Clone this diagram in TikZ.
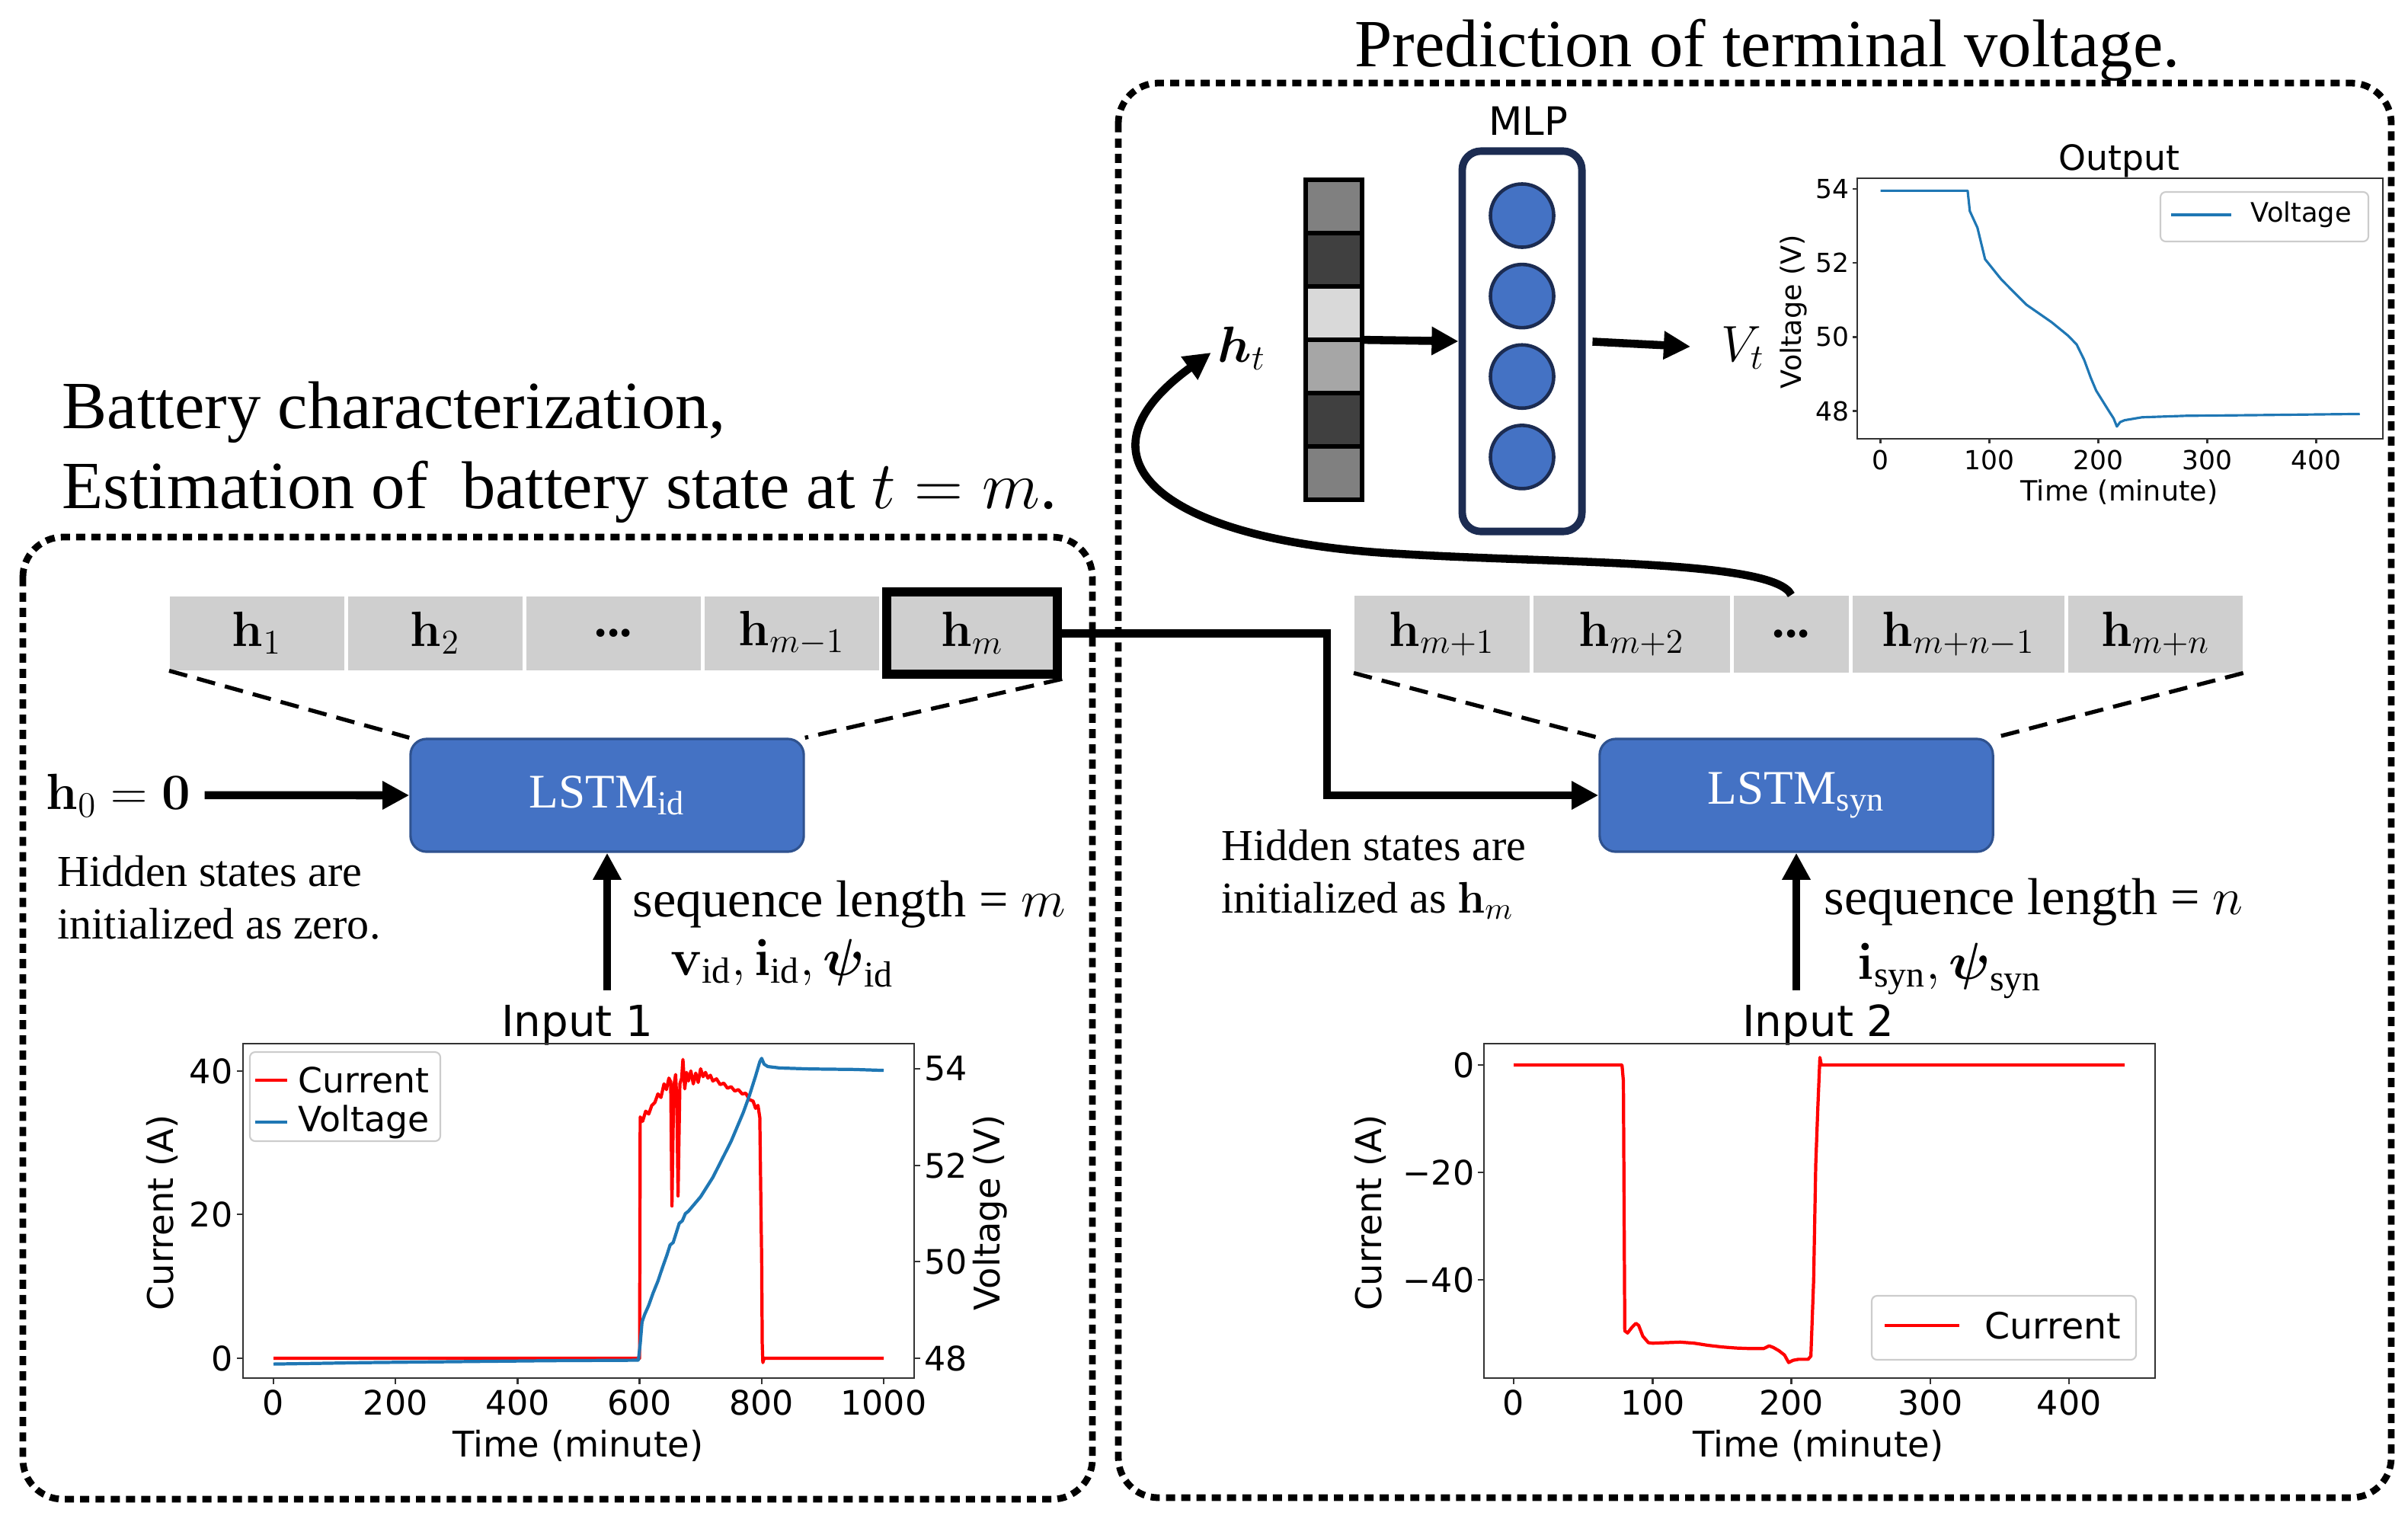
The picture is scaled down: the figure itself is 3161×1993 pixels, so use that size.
\RequirePackage{fix-cm}
\documentclass[tikz,border=0pt]{standalone}
\usepackage{amsmath}
\usepackage[no-math]{fontspec}
\setmainfont{Liberation Serif}
\newfontfamily\plotfont{DejaVu Sans}
\usepackage{tikz}
\usetikzlibrary{arrows.meta}
\usetikzlibrary{positioning}

\definecolor{lstmblue}{HTML}{4472C4}
\definecolor{lstmedge}{HTML}{2F528F}
\definecolor{mlpedge}{HTML}{1C2C52}
\definecolor{cellgrey}{HTML}{CFCFCF}
\definecolor{mplblue}{HTML}{1F77B4}
\definecolor{mplred}{HTML}{FF0000}

\begin{document}
\begin{tikzpicture}
        [x=0.01cm, y=-0.01cm, node distance=0.035cm,
         bigbox/.style={draw, line width=2.5pt, dash pattern=on 3.4pt off 2.3pt, rounded corners=15pt},
         cell/.style={fill=cellgrey, minimum height=0.97cm, inner sep=0pt, font=\fontsize{18.5}{21}\selectfont},
         lstm/.style={draw=lstmedge, line width=0.9pt, fill=lstmblue, rounded corners=6pt,
           minimum width=5.16cm, minimum height=1.48cm, text=white, font=\fontsize{18}{21}\selectfont},
         fat/.style={line width=3pt, -{Triangle[length=10pt, width=10pt]}},
         fan/.style={line width=1.5pt, dash pattern=on 7pt off 3.8pt},
         headline/.style={font=\fontsize{25.2}{29}\selectfont, inner sep=0pt},
         note/.style={font=\fontsize{16.5}{19.6}\selectfont, align=left, inner sep=0pt},
         seqtext/.style={font=\fontsize{19.4}{23}\selectfont, inner sep=0pt},
         mathlbl/.style={font=\fontsize{19}{22}\selectfont, inner sep=0pt},
         vcell/.style={draw, line width=1.6pt, minimum width=0.74cm, minimum height=0.70cm, outer sep=0pt, inner sep=0pt},
         neuron/.style={circle, draw=mlpedge, line width=1.3pt, fill=lstmblue, minimum size=0.83cm, inner sep=0pt},
         axisframe/.style={draw=black!80, line width=0.7pt},
         tickmark/.style={black!80, line width=0.7pt},
         bigtick/.style={font=\plotfont\fontsize{12.6}{15}\selectfont, inner sep=0pt},
         biglabel/.style={font=\plotfont\fontsize{13.2}{16}\selectfont, inner sep=0pt},
         smalltick/.style={font=\plotfont\fontsize{9.8}{12}\selectfont, inner sep=0pt},
         smalllabel/.style={font=\plotfont\fontsize{10.4}{12}\selectfont, inner sep=0pt},
         legendbox/.style={draw=black!20, line width=0.6pt, fill=white, rounded corners=2pt}]
        \useasboundingbox (0,0) rectangle (3161,1993);

        \draw [bigbox] (30,705) rectangle (1434,1968);
        \draw [bigbox] (1468,109) rectangle (3139,1966);

        \node [headline, anchor=base] (predtitle) at (2320,87) {Prediction of terminal voltage.};
        \node [headline, anchor=base west] (chartitle) at (81,562) {Battery characterization,};
        \node [headline, anchor=base west] (esttitle) at (81,667) {Estimation of\ \ battery state at $t = m$.};

        % identification branch
        \node [cell, minimum width=2.29cm, anchor=north west] (h1) at (222,782) {$\mathbf{h}_1$};
        \node [cell, minimum width=2.29cm, right=of h1] (h2) {$\mathbf{h}_2$};
        \node [cell, minimum width=2.29cm, right=of h2] (hdots) {\textbf{...}};
        \node [cell, minimum width=2.29cm, right=of hdots] (hm1) {$\mathbf{h}_{m-1}$};
        \node [cell, draw, line width=3.4pt, minimum width=2.24cm, minimum height=1.08cm, right=of hm1] (hm) {$\mathbf{h}_m$};

        \node [lstm] (lstmid) at (797,1044) {LSTM\textsubscript{id}};
        \draw [fan] (h1.south west) -- (lstmid.north west);
        \draw [fan] (hm.south east) -- (lstmid.north east);

        \node [mathlbl, anchor=base west] (h0) at (60,1062) {$\mathbf{h}_0 = \mathbf{0}$};
        \draw [fat] ([xshift=0.18cm]h0.east) -- (lstmid.west);
        \node [note, anchor=base west] (zeronote) at (75,1232) {Hidden states are\\initialized as zero.};
        \node [seqtext, anchor=base west] (seqm) at (830,1203) {sequence length = $m$};
        \node [seqtext, anchor=base west] (inid) at (880,1280) {$\mathbf{v}_{\text{id}}, \mathbf{i}_{\text{id}}, \boldsymbol{\psi}_{\text{id}}$};

        % synthesis branch
        \node [cell, minimum width=2.30cm, minimum height=1.01cm, anchor=north west] (hn1) at (1777,781) {$\mathbf{h}_{m+1}$};
        \node [cell, minimum width=2.58cm, minimum height=1.01cm, right=of hn1] (hn2) {$\mathbf{h}_{m+2}$};
        \node [cell, minimum width=1.51cm, minimum height=1.01cm, right=of hn2] (hndots) {\textbf{...}};
        \node [cell, minimum width=2.78cm, minimum height=1.01cm, right=of hndots] (hnn1) {$\mathbf{h}_{m+n-1}$};
        \node [cell, minimum width=2.29cm, minimum height=1.01cm, right=of hnn1] (hnn) {$\mathbf{h}_{m+n}$};

        \node [lstm] (lstmsyn) at (2358,1044) {LSTM\textsubscript{syn}};
        \draw [fan] (hn1.south west) -- (lstmsyn.north west);
        \draw [fan] (hnn.south east) -- (lstmsyn.north east);

        \coordinate (hmbend) at (1742,1044);
        \draw [fat] (hm.east) -| (hmbend) -- (lstmsyn.west);
        \node [note, anchor=base west] (hmnote) at (1603,1198) {Hidden states are\\initialized as $\mathbf{h}_m$};
        \node [seqtext, anchor=base west] (seqn) at (2394,1200) {sequence length = $n$};
        \node [seqtext, anchor=base west] (insyn) at (2438,1285) {$\mathbf{i}_{\text{syn}}, \boldsymbol{\psi}_{\text{syn}}$};

        % MLP head
        \node [font=\plotfont\fontsize{14.6}{17}\selectfont, inner sep=0pt, anchor=base] (mlplabel) at (2006,177) {MLP};
        \node [draw=mlpedge, line width=2.8pt, rounded corners=7pt, minimum width=1.57cm, minimum height=4.99cm, inner sep=0pt] (mlp) at (1998,448) {};
        \node [neuron] (n1) at (1998,283) {};
        \node [neuron, below=0.18cm of n1] (n2) {};
        \node [neuron, below=0.18cm of n2] (n3) {};
        \node [neuron, below=0.18cm of n3] (n4) {};

        \node [vcell, fill=black!50] (v1) at (1751,271) {};
        \node [vcell, fill=black!75, below=0pt of v1] (v2) {};
        \node [vcell, fill=black!15, below=0pt of v2] (v3) {};
        \node [vcell, fill=black!35, below=0pt of v3] (v4) {};
        \node [vcell, fill=black!75, below=0pt of v4] (v5) {};
        \node [vcell, fill=black!50, below=0pt of v5] (v6) {};

        \node [mathlbl] (ht) at (1630,457) {$\boldsymbol{h}_t$};
        \node [mathlbl] (vt) at (2288,457) {$V_t$};
        \draw [fat] (v3.south east) -- (mlp.west);
        \draw [fat, shorten <=0.09cm, shorten >=0.4cm] (mlp.east) -- (vt.west);
        \draw [fat, shorten >=0.1cm] (hndots.north) .. controls (2330,735) and (2050,740) .. (1837,727)
              .. controls (1520,710) and (1400,600) .. (ht.west);

        % Input 1 plot
        \node [font=\plotfont\fontsize{16}{19}\selectfont, inner sep=0pt, anchor=base] (in1title) at (758,1360) {Input 1};
        \coordinate (in1arrow) at (797,1300);
        \draw [fat] (in1arrow) -- (lstmid.south);
        \draw [axisframe] (319,1370) rectangle (1200,1809);
        \foreach \t in {0,200,400,600,800,1000} {
          \draw [tickmark] ({359+0.801*\t},1809) -- ++(0,8);
          \node [bigtick] (ax\t) at ({359+0.801*\t},1841) {\t};
        }
        \foreach \c/\y in {0/1783,20/1594,40/1406} {
          \draw [tickmark] (319,\y) -- ++(-8,0);
          \node [bigtick, anchor=east] (ac\c) at (306,\y) {\c};
        }
        \foreach \v/\y in {48/1783,50/1656,52/1530,54/1403} {
          \draw [tickmark] (1200,\y) -- ++(8,0);
          \node [bigtick, anchor=west] (av\v) at (1213,\y) {\v};
        }
        \node [biglabel, rotate=90] (cur1label) at (213,1592) {Current (A)};
        \node [biglabel, rotate=90] (volt1label) at (1300,1592) {Voltage (V)};
        \node [biglabel, anchor=base] (time1label) at (759,1912) {Time (minute)};
        \begin{scope}[shift={(359,1783)}, xscale=0.801, yscale=-9.43]
          \draw [mplred, line width=1.2pt, line join=round] plot coordinates {(0,0) (600,0) (601,33.6) (605,33.0) (610,34.4) (615,34.0) (620,35.2) (625,35.6) (630,36.8) (635,36.3) (640,38.2) (644,37.4) (648,39.0) (651,38.5) (653,21.2) (656,37.8) (659,39.5) (661,36.0) (663,22.6) (666,38.2) (669,39.0) (671,41.6) (674,37.5) (677,39.8) (680,38.6) (684,40.0) (688,38.2) (692,39.7) (696,38.4) (700,40.3) (704,39.2) (708,39.8) (712,39.0) (716,39.4) (720,38.6) (726,38.9) (732,38.1) (738,38.3) (744,37.6) (750,37.8) (756,37.2) (762,37.4) (768,36.8) (774,36.9) (780,36.0) (786,35.8) (790,34.8) (794,35.2) (797,33.5) (799,20.0) (800,14.0) (801,2.0) (802,-0.6) (804,0) (1000,0)};
        \end{scope}
        \begin{scope}[shift={(359,1783)}, xscale=0.801, yscale=-63.3]
          \draw [mplblue, line width=1.2pt, line join=round] plot coordinates {(0,-0.12) (50,-0.11) (150,-0.09) (300,-0.07) (450,-0.05) (598,-0.04) (601,0.3) (604,0.75) (608,0.9) (615,1.1) (622,1.35) (630,1.6) (638,1.9) (645,2.15) (650,2.35) (655,2.4) (660,2.6) (665,2.8) (670,2.85) (675,3.0) (680,3.05) (690,3.2) (700,3.35) (710,3.55) (720,3.75) (730,4.0) (740,4.25) (750,4.5) (760,4.8) (770,5.1) (780,5.45) (790,5.85) (797,6.15) (800,6.22) (804,6.1) (810,6.05) (830,6.02) (880,6.0) (950,5.99) (1000,5.97)};
        \end{scope}
        \draw [legendbox] (328,1381) rectangle (578,1498);
        \draw [mplred, line width=1.3pt] (335,1418) -- (377,1418);
        \draw [mplblue, line width=1.3pt] (335,1473) -- (377,1473);
        \node [bigtick, font=\plotfont\fontsize{13}{15}\selectfont, anchor=west] (leg1cur) at (391,1418) {Current};
        \node [bigtick, font=\plotfont\fontsize{13}{15}\selectfont, anchor=west] (leg1volt) at (391,1473) {Voltage};

        % Input 2 plot
        \node [font=\plotfont\fontsize{16}{19}\selectfont, inner sep=0pt, anchor=base] (in2title) at (2387,1360) {Input 2};
        \coordinate (in2arrow) at (2358,1300);
        \draw [fat] (in2arrow) -- (lstmsyn.south);
        \draw [axisframe] (1948,1370) rectangle (2829,1809);
        \foreach \t in {0,100,200,300,400} {
          \draw [tickmark] ({1987+1.823*\t},1809) -- ++(0,8);
          \node [bigtick] (bx\t) at ({1987+1.823*\t},1841) {\t};
        }
        \foreach \c/\y/\lab in {0/1398/0,20/1539/−20,40/1680/−40} {
          \draw [tickmark] (1948,\y) -- ++(-8,0);
          \node [bigtick, anchor=east] (bc\c) at (1936,\y) {\lab};
        }
        \node [biglabel, rotate=90] (cur2label) at (1799,1592) {Current (A)};
        \node [biglabel, anchor=base] (time2label) at (2387,1912) {Time (minute)};
        \begin{scope}[shift={(1987,1398)}, xscale=1.823, yscale=-7.05]
          \draw [mplred, line width=1.2pt, line join=round] plot coordinates {(0,0) (78,0) (79,-3) (80,-49.5) (82,-49.9) (85,-48.9) (88,-48.1) (90,-48.5) (93,-50.5) (97,-51.7) (100,-51.8) (110,-51.7) (120,-51.6) (130,-51.8) (140,-52.2) (150,-52.5) (160,-52.7) (170,-52.8) (180,-52.8) (184,-52.3) (187,-52.6) (191,-53.2) (195,-54.0) (198,-55.4) (201,-55.0) (205,-54.8) (212,-54.8) (214,-54.2) (216,-40) (217.5,-18.6) (219,-8) (220.5,1.4) (221.5,0) (440,0)};
        \end{scope}
        \draw [legendbox] (2457,1701) rectangle (2804,1785);
        \draw [mplred, line width=1.3pt] (2474,1740) -- (2572,1740);
        \node [bigtick, font=\plotfont\fontsize{13.5}{15}\selectfont, anchor=west] (leg2cur) at (2605,1740) {Current};

        % Output plot
        \node [font=\plotfont\fontsize{13}{15}\selectfont, inner sep=0pt, anchor=base] (outtitle) at (2782,223) {Output};
        \draw [axisframe] (2438,234) rectangle (3128,576);
        \foreach \t in {0,100,200,300,400} {
          \draw [tickmark] ({2468.5+1.43*\t},576) -- ++(0,6);
          \node [smalltick] (cx\t) at ({2468.5+1.43*\t},604) {\t};
        }
        \foreach \v/\y in {48/539.5,50/442.3,52/345.1,54/247.9} {
          \draw [tickmark] (2438,\y) -- ++(-6,0);
          \node [smalltick, anchor=east] (cv\v) at (2428,\y) {\v};
        }
        \node [smalllabel, anchor=base] (time3label) at (2782,657) {Time (minute)};
        \node [smalllabel, rotate=90] (volt3label) at (2354,409) {Voltage (V)};
        \begin{scope}[shift={(2468.5,539.5)}, xscale=1.43, yscale=-48.6]
          \draw [mplblue, line width=0.9pt, line join=round] plot coordinates {(0,5.95) (80,5.95) (82,5.4) (89,4.95) (96,4.1) (111,3.55) (134,2.87) (157,2.4) (172,2.04) (180,1.8) (187,1.38) (193,0.9) (198,0.55) (209,0.03) (214,-0.2) (217,-0.42) (220,-0.3) (224,-0.25) (240,-0.17) (280,-0.13) (350,-0.11) (440,-0.08)};
        \end{scope}
        \draw [legendbox] (2836,252) rectangle (3109,317);
        \draw [mplblue, line width=1pt] (2850,282) -- (2929,282);
        \node [smalltick, font=\plotfont\fontsize{10}{12}\selectfont, anchor=west] (leg3volt) at (2954,282) {Voltage};
    \end{tikzpicture}
\end{document}
